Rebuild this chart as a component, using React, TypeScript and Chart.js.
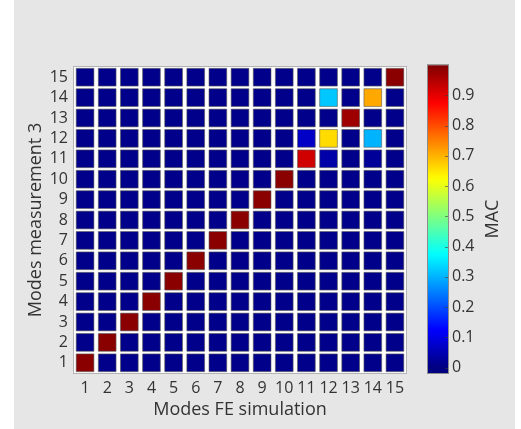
import React, { useEffect, useRef } from "react";
import { Chart, registerables } from "chart.js";
Chart.register(...registerables);

// Mode numbers (FE simulation on x, measurement 3 on y)
const feModes = [1, 2, 3, 4, 5, 6, 7, 8, 9, 10, 11, 12, 13, 14, 15];
const measModes = [1, 2, 3, 4, 5, 6, 7, 8, 9, 10, 11, 12, 13, 14, 15];

// MAC values: one array per measurement mode, entries per FE mode 1..15
const macMeas1 = [0.99, 0.01, 0.01, 0.01, 0.01, 0.01, 0.01, 0.01, 0.01, 0.01, 0.01, 0.01, 0.01, 0.01, 0.01];
const macMeas2 = [0.01, 0.99, 0.01, 0.01, 0.01, 0.01, 0.01, 0.01, 0.01, 0.01, 0.01, 0.01, 0.01, 0.01, 0.01];
const macMeas3 = [0.01, 0.01, 0.99, 0.01, 0.01, 0.01, 0.01, 0.01, 0.01, 0.01, 0.01, 0.01, 0.01, 0.01, 0.01];
const macMeas4 = [0.01, 0.01, 0.01, 0.99, 0.01, 0.01, 0.01, 0.01, 0.01, 0.01, 0.01, 0.01, 0.01, 0.01, 0.01];
const macMeas5 = [0.01, 0.01, 0.01, 0.01, 0.99, 0.01, 0.01, 0.01, 0.01, 0.01, 0.01, 0.01, 0.01, 0.01, 0.01];
const macMeas6 = [0.01, 0.01, 0.01, 0.01, 0.01, 0.99, 0.01, 0.01, 0.01, 0.01, 0.01, 0.01, 0.01, 0.01, 0.01];
const macMeas7 = [0.01, 0.01, 0.01, 0.01, 0.01, 0.01, 0.99, 0.01, 0.01, 0.01, 0.01, 0.01, 0.01, 0.01, 0.01];
const macMeas8 = [0.01, 0.01, 0.01, 0.01, 0.01, 0.01, 0.01, 0.99, 0.01, 0.01, 0.01, 0.01, 0.01, 0.01, 0.01];
const macMeas9 = [0.01, 0.01, 0.01, 0.01, 0.01, 0.01, 0.01, 0.01, 0.99, 0.01, 0.01, 0.01, 0.01, 0.01, 0.01];
const macMeas10 = [0.01, 0.01, 0.01, 0.01, 0.01, 0.01, 0.01, 0.01, 0.01, 0.99, 0.01, 0.01, 0.01, 0.01, 0.01];
const macMeas11 = [0.01, 0.01, 0.01, 0.01, 0.01, 0.01, 0.01, 0.01, 0.01, 0.01, 0.92, 0.04, 0.01, 0.025, 0.01];
const macMeas12 = [0.01, 0.01, 0.01, 0.01, 0.01, 0.01, 0.01, 0.01, 0.01, 0.01, 0.07, 0.66, 0.01, 0.30, 0.01];
const macMeas13 = [0.01, 0.01, 0.01, 0.01, 0.01, 0.01, 0.01, 0.01, 0.01, 0.01, 0.01, 0.01, 0.97, 0.01, 0.01];
const macMeas14 = [0.01, 0.01, 0.01, 0.01, 0.01, 0.01, 0.01, 0.01, 0.01, 0.01, 0.01, 0.32, 0.01, 0.71, 0.01];
const macMeas15 = [0.01, 0.01, 0.01, 0.01, 0.01, 0.01, 0.01, 0.01, 0.01, 0.01, 0.01, 0.01, 0.01, 0.01, 0.99];

const macRows = [
  macMeas1, macMeas2, macMeas3, macMeas4, macMeas5, macMeas6, macMeas7, macMeas8,
  macMeas9, macMeas10, macMeas11, macMeas12, macMeas13, macMeas14, macMeas15,
];

// Colour bar range and ticks
const colorbarMin = -0.018;
const colorbarMax = 0.994;
const colorbarTop = 1.0;
const colorbarTicks = [0, 0.1, 0.2, 0.3, 0.4, 0.5, 0.6, 0.7, 0.8, 0.9];

function clamp01(v: number) {
  return Math.max(0, Math.min(1, v));
}
function jet(v: number) {
  const t = clamp01(v);
  const r = clamp01(1.5 - Math.abs(4 * t - 3));
  const g = clamp01(1.5 - Math.abs(4 * t - 2));
  const b = clamp01(1.5 - Math.abs(4 * t - 1));
  return `rgb(${Math.round(r * 255)},${Math.round(g * 255)},${Math.round(b * 255)})`;
}

const FONT = "'Open Sans', 'Noto Sans', sans-serif";
const TEXT = "#333333";

export default function App() {
  const canvasRef = useRef<HTMLCanvasElement | null>(null);

  useEffect(() => {
    const canvas = canvasRef.current;
    if (!canvas) return;

    const points: { x: number; y: number; v: number }[] = [];
    measModes.forEach((m, ri) => {
      feModes.forEach((f, ci) => {
        points.push({ x: f, y: m, v: macRows[ri][ci] });
      });
    });

    const bgPlugin = {
      id: "bg",
      beforeDraw(chart: any) {
        const { ctx, width, height, chartArea } = chart;
        ctx.save();
        ctx.fillStyle = "#ffffff";
        ctx.fillRect(0, 0, width, height);
        ctx.fillStyle = "#e6e6e6";
        ctx.fillRect(14, 0, 501, height);
        ctx.fillStyle = "#ffffff";
        ctx.fillRect(chartArea.left, chartArea.top, chartArea.right - chartArea.left, chartArea.bottom - chartArea.top);
        ctx.restore();
      },
      afterDraw(chart: any) {
        const { ctx, chartArea } = chart;
        const y2 = chart.scales.y2;
        ctx.save();
        // plot frame
        ctx.strokeStyle = "#b4b4b4";
        ctx.lineWidth = 1;
        ctx.strokeRect(chartArea.left - 0.5, chartArea.top - 0.5, chartArea.right - chartArea.left + 1, chartArea.bottom - chartArea.top + 1);
        // colour bar
        const cbLeft = chartArea.right + 22;
        const cbWidth = 20;
        const yTop = y2.getPixelForValue(colorbarTop);
        const yBot = y2.getPixelForValue(colorbarMin);
        const grad = ctx.createLinearGradient(0, yBot, 0, yTop);
        const steps = 64;
        for (let i = 0; i <= steps; i++) {
          const f = i / steps;
          const v = colorbarMin + f * (colorbarTop - colorbarMin);
          grad.addColorStop(f, jet(v));
        }
        ctx.fillStyle = grad;
        ctx.fillRect(cbLeft, yTop, cbWidth, yBot - yTop);
        ctx.strokeStyle = "#8c8c8c";
        ctx.strokeRect(cbLeft - 0.5, yTop - 0.5, cbWidth + 1, yBot - yTop + 1);
        // small tick marks on colour bar
        ctx.strokeStyle = "rgba(60,60,60,0.6)";
        colorbarTicks.forEach((t) => {
          const py = Math.round(y2.getPixelForValue(t)) + 0.5;
          ctx.beginPath();
          ctx.moveTo(cbLeft + cbWidth - 3, py);
          ctx.lineTo(cbLeft + cbWidth, py);
          ctx.stroke();
        });
        // colour bar title
        ctx.fillStyle = TEXT;
        ctx.font = `18px ${FONT}`;
        ctx.textAlign = "center";
        ctx.textBaseline = "middle";
        ctx.translate(493, (yTop + yBot) / 2);
        ctx.rotate(-Math.PI / 2);
        ctx.fillText("MAC", 0, 0);
        ctx.restore();
      },
    };

    const cellRadius = (c: any) => {
      const s = c.chart.scales.x;
      if (!s) return 13;
      const pitch = Math.abs(s.getPixelForValue(2) - s.getPixelForValue(1));
      return (pitch * 0.8) / Math.SQRT2;
    };

    const chart = new Chart(canvas, {
      type: "scatter",
      data: {
        datasets: [
          {
            data: points as any,
            pointStyle: "rect",
            pointRadius: cellRadius as any,
            pointBackgroundColor: ((c: any) => jet(c.raw ? c.raw.v : 0)) as any,
            pointBorderColor: "rgba(90,90,90,0.6)",
            pointBorderWidth: 1,
          },
        ],
      },
      options: {
        responsive: false,
        animation: false,
        events: [],
        layout: { padding: { left: 0, top: 67, right: 6, bottom: 0 } },
        plugins: { legend: { display: false }, tooltip: { enabled: false } },
        scales: {
          x: {
            type: "linear",
            min: 0.5,
            max: 15.5,
            afterFit: (s: any) => {
              s.height = 56;
            },
            afterBuildTicks: (s: any) => {
              s.ticks = feModes.map((v) => ({ value: v }));
            },
            grid: { display: false, drawTicks: false },
            border: { display: false },
            ticks: {
              padding: 6,
              color: TEXT,
              font: { family: FONT, size: 16 },
              autoSkip: false,
              maxRotation: 0,
              callback: (v: any) => String(v),
            },
            title: {
              display: true,
              text: "Modes FE simulation",
              color: TEXT,
              font: { family: FONT, size: 18 },
              padding: { top: 0, bottom: 8 },
            },
          },
          y: {
            type: "linear",
            position: "left",
            min: 0.5,
            max: 15.5,
            afterFit: (s: any) => {
              s.width = 74;
            },
            afterBuildTicks: (s: any) => {
              s.ticks = measModes.map((v) => ({ value: v }));
            },
            grid: { display: false, drawTicks: false },
            border: { display: false },
            ticks: {
              padding: 6,
              color: TEXT,
              font: { family: FONT, size: 16 },
              autoSkip: false,
              callback: (v: any) => String(v),
            },
            title: {
              display: true,
              text: "Modes measurement 3",
              color: TEXT,
              font: { family: FONT, size: 18 },
              padding: { top: 25, bottom: 0 },
            },
          },
          y2: {
            type: "linear",
            position: "right",
            min: colorbarMin,
            max: colorbarMax,
            afterFit: (s: any) => {
              s.width = 109;
            },
            afterBuildTicks: (s: any) => {
              s.ticks = colorbarTicks.map((v) => ({ value: v }));
            },
            grid: { display: false, drawTicks: false },
            border: { display: false },
            ticks: {
              padding: 46,
              color: TEXT,
              font: { family: FONT, size: 16 },
              autoSkip: false,
              callback: (v: any) => (v === 0 ? "0" : Number(v).toFixed(1)),
            },
          },
        },
      },
      plugins: [bgPlugin],
    });

    return () => chart.destroy();
  }, []);

  return (
    <div style={{ position: "fixed", left: 0, top: 0, width: 521, height: 429 }}>
      <canvas ref={canvasRef} width={521} height={429} style={{ width: 521, height: 429, display: "block" }} />
    </div>
  );
}
